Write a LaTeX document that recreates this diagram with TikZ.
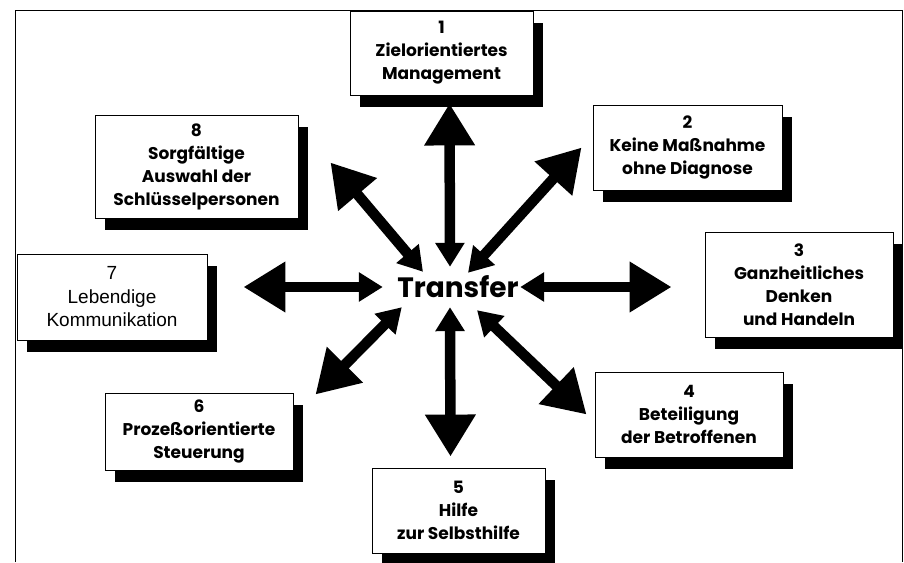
\documentclass[tikz,border=0pt]{standalone}
\usepackage{fontspec}
\usepackage{tikz}
\usetikzlibrary{arrows.meta,shadows}
\newfontfamily\futura{Poppins}
\newfontfamily\arial{Liberation Sans}

\begin{document}
\begin{tikzpicture}[x=1pt,y=-1pt,
  kasten/.style={draw,line width=0.9pt,fill=white,inner sep=0pt,align=center,
    font=\futura\bfseries\fontsize{17}{23}\selectfont,
    drop shadow={shadow xshift=10pt,shadow yshift=-12pt,fill=black,opacity=1}},
  pfeil/.style={line width=10.5pt,{Triangle[length=24pt,width=28pt]}-{Triangle[length=42pt,width=48pt]}}]
\useasboundingbox (0,0) rectangle (904,562);
\draw[line width=1pt] (15,562) -- (15,10) -- (902,10) -- (902,562);

\node[kasten,minimum width=183pt,minimum height=84pt] (b1) at (441.5,53) {1\\Zielorientiertes\\Management};
\node[kasten,minimum width=189pt,minimum height=85pt] (b2) at (687.5,147.5) {2\\Keine Maßnahme\\ohne Diagnose};
\node[kasten,minimum width=188pt,minimum height=105pt] (b3) at (799,284.5) {3\\Ganzheitliches\\Denken\\und Handeln};
\node[kasten,minimum width=188pt,minimum height=85pt] (b4) at (689,414.5) {4\\Beteiligung\\der Betroffenen};
\node[kasten,minimum width=173pt,minimum height=85pt] (b5) at (458.5,510.5) {5\\Hilfe\\zur Selbsthilfe};
\node[kasten,minimum width=188pt,minimum height=77pt] (b6) at (199,431.5) {6\\Prozeßorientierte\\Steuerung};
\node[kasten,minimum width=190pt,minimum height=86pt,font=\arial\fontsize{19}{23.5}\selectfont] (b7) at (112,297) {7\\Lebendige\\Kommunikation};
\node[kasten,minimum width=203pt,minimum height=103pt] (b8) at (196.5,166.5) {8\\Sorgfältige\\Auswahl der\\Schlüsselpersonen};

\node[font=\futura\bfseries\fontsize{28}{30}\selectfont,minimum width=130pt,minimum height=40pt,inner sep=0pt] (t) at (458,287) {Transfer};

% Pfeile vom Transfer zu den Kaesten
\draw[pfeil] ([xshift=-8]t.north) -- ([shift={(8,8)}]b1.south);
\draw[pfeil] ([shift={(10,6)}]t.north) -- ([xshift=-11]b2.west);
\draw[pfeil,shorten >=33pt] ([xshift=-3]t.east) -- (t.east -| b3.west);
\draw[pfeil] ([shift={(19,3)}]t.south) -- ([xshift=-8]b4.west);
\draw[pfeil] ([xshift=-8]t.south) -- ([shift={(-8,-11)}]b5.north);
\draw[pfeil] ([xshift=9]t.south west) -- ([shift={(22,2)}]b6.north east);
\draw[pfeil,shorten >=36pt] ([xshift=-10]t.west) -- (t.west -| b7.east);
\draw[pfeil] ([shift={(-35,5)}]t.north) -- ([shift={(32,-4)}]b8.east);
\end{tikzpicture}
\end{document}
